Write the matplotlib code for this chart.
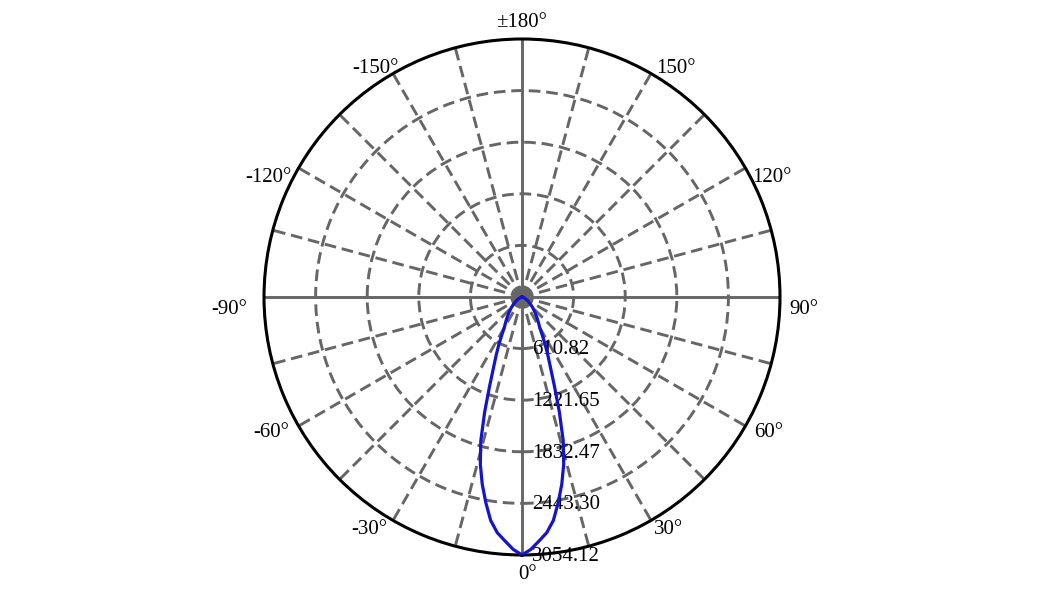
import numpy as np
import matplotlib
matplotlib.use("Agg")
import matplotlib.pyplot as plt

# luminous intensity (cd) vs angle (deg); symmetric lobe
angles_deg = [0, 2, 4, 6, 8, 10, 12, 14, 16, 18, 20, 22, 24, 26, 28, 30,
              33, 36, 40, 45, 50, 55, 60, 70, 80, 90]
intensity = [3054.12, 2990, 2895, 2805, 2670, 2470, 2265, 2040, 1770, 1430, 1120,
             900, 750, 625, 510, 420, 355, 300, 240, 180, 130, 90, 60, 25, 8, 0]

ring_values = [610.82, 1221.65, 1832.47, 2443.30, 3054.12]
ring_labels = ["610.82", "1221.65", "1832.47", "2443.30", "3054.12"]

tick_angles = [0, 30, 60, 90, 120, 150, 180, 210, 240, 270, 300, 330]
tick_labels = ["0°", "30°", "60°", "90°", "120°", "150°", "±180°",
               "-150°", "-120°", "-90°", "-60°", "-30°"]
# label alignment / pixel offsets around the outer circle
tick_style = [("center", "top", 4, -7), ("left", "top", 2, 0), ("left", "center", 6, -5),
              ("left", "top", 7, -2), ("left", "top", 5, 0), ("left", "bottom", 4, -3),
              ("center", "bottom", 0, 5), ("right", "bottom", 4, -3), ("right", "top", -5, 0),
              ("right", "top", -12, -2), ("right", "center", -7, -5), ("right", "top", -4, 0)]

plt.rcParams['font.family'] = ['Liberation Serif', 'DejaVu Serif']

fig = plt.figure(figsize=(10.41, 5.99), dpi=100)
ax = fig.add_axes([0.2536, 0.0735, 0.4957, 0.8614], projection='polar')
ax.set_theta_zero_location('S')
ax.set_theta_direction(1)

rmax = ring_values[-1]
ax.set_ylim(0, rmax)

grid_color = '#666666'
ax.set_xticks(np.deg2rad(np.arange(0, 360, 15)))
ax.set_xticklabels([])
ax.set_yticks(ring_values[:-1])
ax.set_yticklabels([])
ax.tick_params(length=0, pad=0)
ax.grid(True, color=grid_color, linewidth=2.1, linestyle=(0, (4, 2)))
for i, gl in enumerate(ax.xaxis.get_gridlines()):
    if i % 6 == 0:
        gl.set_linestyle('-')
ax.spines['polar'].set_color('black')
ax.spines['polar'].set_linewidth(2.2)

# full lobe from -90 to 90
th = np.deg2rad(np.array([-a for a in angles_deg[::-1]] + angles_deg[1:]))
vals = np.array(intensity[::-1] + intensity[1:])
ax.plot(th, vals, color='#1414cc', linewidth=2.3, zorder=5)

# small gray disk where the spokes meet
ax.plot([0], [0], 'o', color=grid_color, markersize=15, zorder=3, clip_on=False)

for val, lab in zip(ring_values, ring_labels):
    ax.annotate(lab, xy=(0, val), xytext=(7, -1), textcoords='offset points',
                ha='left', va='center', fontsize=15, zorder=4)

for ang, lab, (ha, va, dx, dy) in zip(tick_angles, tick_labels, tick_style):
    ax.annotate(lab, xy=(np.deg2rad(ang), rmax), xytext=(dx, dy),
                textcoords='offset points', ha=ha, va=va, fontsize=15,
                annotation_clip=False)

fig.savefig('out.png', dpi=100)
